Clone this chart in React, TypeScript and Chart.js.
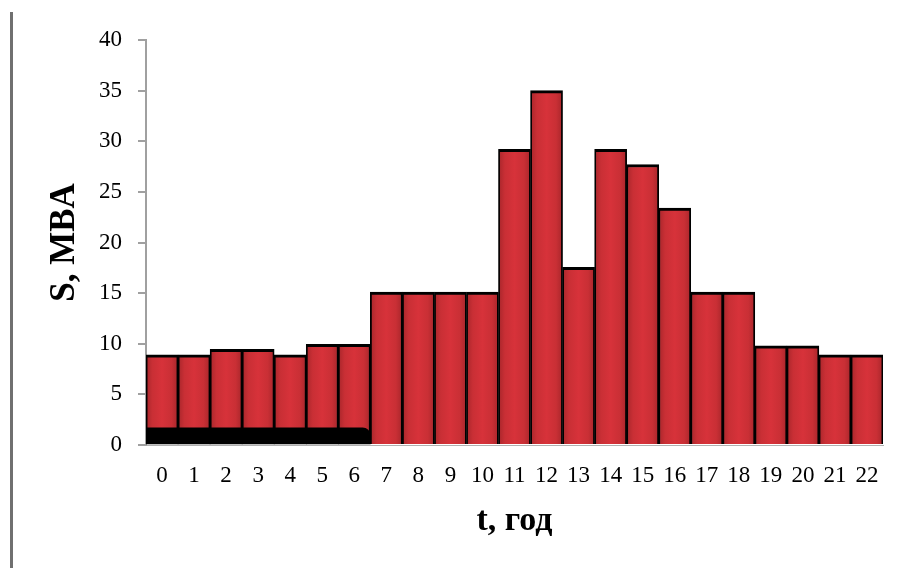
import React, { useEffect, useRef } from "react";
import { Chart, registerables } from "chart.js";

Chart.register(...registerables);

const hours: string[] = ["0","1","2","3","4","5","6","7","8","9","10","11","12","13","14","15","16","17","18","19","20","21","22"];
const loadMVA: number[] = [8.9, 8.9, 9.45, 9.45, 8.9, 9.95, 9.95, 15.1, 15.1, 15.1, 15.1, 29.2, 35.0, 17.55, 29.2, 27.7, 23.4, 15.1, 15.1, 9.8, 9.8, 8.9, 8.9];
const bandValues: (number | null)[] = [1.7, 1.7, 1.7, 1.7, 1.7, 1.7, 1.7, null, null, null, null, null, null, null, null, null, null, null, null, null, null, null, null];
const yTitle = "S, MBA";
const xTitle = "t, год";

const SERIF = "'Liberation Serif', 'Times New Roman', serif";

export default function App() {
  const ref = useRef<HTMLCanvasElement | null>(null);

  useEffect(() => {
    document.body.style.margin = "0";
    const canvas = ref.current;
    if (!canvas) return;

    const barFill = (ctx: any) => {
      const chart = ctx.chart;
      const xs = chart.scales && chart.scales.x;
      if (!xs || !chart.chartArea) return "#c92f34";
      const c = xs.getPixelForValue(ctx.dataIndex);
      const w = (chart.chartArea.right - chart.chartArea.left) / hours.length;
      const g = chart.ctx.createLinearGradient(c - w / 2, 0, c + w / 2, 0);
      g.addColorStop(0, "#a8262b");
      g.addColorStop(0.2, "#c92f35");
      g.addColorStop(0.5, "#d7323a");
      g.addColorStop(0.8, "#c92f35");
      g.addColorStop(1, "#a8262b");
      return g;
    };

    const chart = new Chart(canvas, {
      type: "bar",
      data: {
        labels: hours,
        datasets: [
          {
            data: bandValues as any,
            backgroundColor: "#000000",
            borderWidth: 0,
            grouped: false,
            order: 0,
            categoryPercentage: 1,
            barPercentage: 1,
            borderRadius: (ctx: any) =>
              ctx.dataIndex === 6 ? { topLeft: 0, topRight: 12, bottomLeft: 0, bottomRight: 0 } : 0,
            borderSkipped: false,
          } as any,
          {
            data: loadMVA,
            backgroundColor: barFill as any,
            borderColor: "#000000",
            borderWidth: { top: 3, left: 1.8, right: 1.8, bottom: 0 } as any,
            borderSkipped: false,
            grouped: false,
            order: 1,
            categoryPercentage: 1,
            barPercentage: 1,
          } as any,
        ],
      },
      options: {
        responsive: false,
        animation: false,
        devicePixelRatio: 1,
        layout: { padding: { left: 0, top: 40, right: 18, bottom: 0 } },
        plugins: { legend: { display: false }, tooltip: { enabled: false } },
        scales: {
          x: {
            grid: { display: false, drawTicks: false },
            border: { display: true, color: "#b0b0b0", width: 1 },
            ticks: {
              color: "#000",
              padding: 17,
              maxRotation: 0,
              autoSkip: false,
              font: { family: SERIF, size: 23 },
            },
            title: {
              display: true,
              text: xTitle,
              color: "#000",
              font: { family: SERIF, size: 34, weight: "bold" },
              padding: { top: 0, bottom: 26 },
            },
            afterFit: (s: any) => {
              s.height = 123;
            },
          },
          y: {
            min: 0,
            max: 40,
            grid: {
              display: true,
              drawOnChartArea: false,
              drawTicks: true,
              tickLength: 8,
              color: "#a0a0a0",
              lineWidth: 2,
            },
            border: { display: true, color: "#a0a0a0", width: 2 },
            ticks: {
              stepSize: 5,
              color: "#000",
              padding: 16,
              font: { family: SERIF, size: 23 },
            },
            title: {
              display: true,
              text: yTitle,
              color: "#000",
              font: { family: SERIF, size: 35, weight: "bold" },
              padding: { top: 44, bottom: 0 },
            },
            afterFit: (s: any) => {
              s.width = 146;
            },
          },
        },
      },
    });
    return () => chart.destroy();
  }, []);

  return (
    <div style={{ position: "fixed", left: 0, top: 0, width: 901, height: 568, background: "#fff" }}>
      <div style={{ position: "absolute", left: 10, top: 12, width: 3, height: 556, background: "#707070" }} />
      <canvas ref={ref} width={901} height={568} style={{ position: "absolute", left: 0, top: 0, width: 901, height: 568 }} />
    </div>
  );
}
